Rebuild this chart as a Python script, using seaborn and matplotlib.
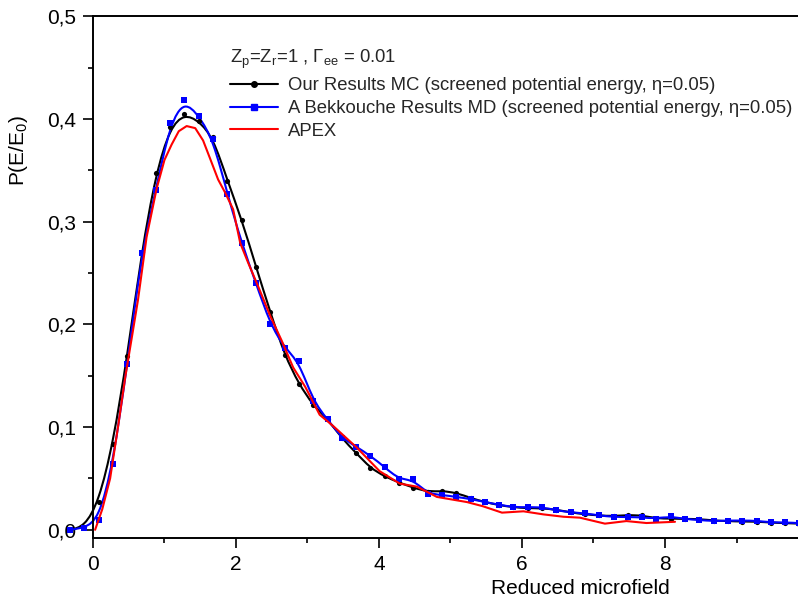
import numpy as np
import seaborn as sns
import matplotlib.pyplot as plt
from matplotlib.path import Path
from matplotlib.patches import PathPatch
from matplotlib.lines import Line2D
from matplotlib.ticker import FuncFormatter, MultipleLocator

# --- data ---
field = [-0.32, -0.12, 0.08, 0.28, 0.48, 0.68, 0.88, 1.08, 1.28, 1.48,
         1.68, 1.88, 2.08, 2.28, 2.48, 2.68, 2.88, 3.08, 3.28, 3.48,
         3.68, 3.88, 4.08, 4.28, 4.48, 4.68, 4.88, 5.08, 5.28, 5.48,
         5.68, 5.88, 6.08, 6.28, 6.48, 6.68, 6.88, 7.08, 7.28, 7.48,
         7.68, 7.88, 8.08, 8.28, 8.48, 8.68, 8.88, 9.08, 9.28, 9.48,
         9.68, 9.88]

mc_values = [0.000, 0.003, 0.027, 0.084, 0.169, 0.270, 0.347, 0.392, 0.405, 0.398,
             0.382, 0.340, 0.302, 0.256, 0.212, 0.170, 0.142, 0.121, 0.108, 0.089,
             0.075, 0.060, 0.052, 0.046, 0.041, 0.037, 0.038, 0.036, 0.031, 0.027,
             0.024, 0.022, 0.021, 0.021, 0.0195, 0.017, 0.015, 0.014, 0.0133, 0.0144,
             0.014, 0.011, 0.011, 0.0105, 0.0105, 0.009, 0.0085, 0.008, 0.008, 0.007,
             0.0065, 0.006]

md_values = [0.000, 0.002, 0.010, 0.064, 0.161, 0.269, 0.331, 0.396, 0.418, 0.403,
             0.380, 0.327, 0.279, 0.240, 0.200, 0.177, 0.164, 0.125, 0.1075, 0.0895,
             0.081, 0.072, 0.061, 0.049, 0.049, 0.035, 0.034, 0.032, 0.030, 0.027,
             0.0245, 0.022, 0.022, 0.022, 0.019, 0.017, 0.016, 0.014, 0.0125, 0.0125,
             0.012, 0.011, 0.013, 0.0105, 0.0095, 0.0085, 0.009, 0.009, 0.0088, 0.0072,
             0.0072, 0.0065]

apex_field = [0.03, 0.13, 0.24, 0.35, 0.45, 0.55, 0.63, 0.75, 0.89, 1.00,
              1.10, 1.20, 1.31, 1.43, 1.54, 1.64, 1.75, 1.85, 1.96, 2.06,
              2.17, 2.31, 2.48, 2.64, 2.80, 2.97, 3.17, 3.36, 3.69, 4.01,
              4.29, 4.53, 4.81, 5.23, 5.45, 5.72, 6.02, 6.30, 6.58, 6.81,
              7.16, 7.46, 7.74, 8.14]
apex_values = [0.000, 0.020, 0.050, 0.100, 0.148, 0.190, 0.224, 0.285, 0.332, 0.360,
               0.375, 0.388, 0.393, 0.391, 0.379, 0.361, 0.341, 0.328, 0.312, 0.279,
               0.260, 0.237, 0.208, 0.184, 0.158, 0.139, 0.112, 0.101, 0.080, 0.057,
               0.045, 0.042, 0.032, 0.027, 0.023, 0.0167, 0.018, 0.015, 0.0127, 0.0118,
               0.006, 0.0085, 0.0066, 0.0078]

legend_title = r"Z$_\mathregular{p}$=Z$_\mathregular{r}$=1 , Γ$_\mathregular{ee}$ = 0.01"
labels = ["Our Results MC (screened potential energy, η=0.05)",
          "A Bekkouche Results MD (screened potential energy, η=0.05)",
          "APEX"]


def bspline_patch(xs, ys, color):
    """Origin-like B-spline connection, drawn as cubic Bezier segments."""
    p = np.column_stack([xs, ys])
    p = np.vstack([p[:1], p[:1], p, p[-1:], p[-1:]])
    verts = [(p[0] + 4 * p[1] + p[2]) / 6]
    codes = [Path.MOVETO]
    for i in range(len(p) - 3):
        q0, q1, q2, q3 = p[i], p[i + 1], p[i + 2], p[i + 3]
        verts += [(2 * q1 + q2) / 3, (q1 + 2 * q2) / 3, (q1 + 4 * q2 + q3) / 6]
        codes += [Path.CURVE4] * 3
    return PathPatch(Path(verts, codes), facecolor='none', edgecolor=color,
                     lw=1.5, clip_on=False)


sns.set_theme(style='ticks')
plt.rcParams['font.family'] = ['Liberation Sans', 'DejaVu Sans']
plt.rcParams['mathtext.fontset'] = 'custom'
plt.rcParams['mathtext.rm'] = 'Liberation Sans'

fig, ax = plt.subplots(figsize=(7.98, 5.98), dpi=100)
fig.subplots_adjust(left=0.1165, right=1.0, bottom=0.1003, top=0.973)

# MC (black) and MD (blue): smooth line + markers
ax.add_patch(bspline_patch(field, mc_values, 'black'))
sns.scatterplot(x=field, y=mc_values, color='black', marker='o', s=14,
                linewidth=0, clip_on=False, ax=ax, zorder=3)
ax.add_patch(bspline_patch(field, md_values, '#0000ff'))
sns.scatterplot(x=field, y=md_values, color='#0000ff', marker='s', s=14,
                linewidth=0, clip_on=False, ax=ax, zorder=3)
# APEX (red)
sns.lineplot(x=apex_field, y=apex_values, color='red', lw=1.5, sort=False,
             estimator=None, ax=ax, zorder=4)

ax.set_xlim(0, 9.86)
ax.set_ylim(-0.008, 0.5)
ax.xaxis.set_major_locator(MultipleLocator(2))
ax.xaxis.set_minor_locator(MultipleLocator(1))
ax.yaxis.set_major_locator(MultipleLocator(0.1))
ax.yaxis.set_minor_locator(MultipleLocator(0.05))
ax.yaxis.set_major_formatter(FuncFormatter(lambda v, pos: f"{v:.1f}".replace('.', ',')))
ax.xaxis.set_major_formatter(FuncFormatter(lambda v, pos: f"{v:.0f}"))

ax.tick_params(which='major', direction='out', length=7, width=1.2, pad=5,
               labelsize=15, color='black', labelcolor='black')
ax.tick_params(which='minor', direction='out', length=3.5, width=1.2, color='black')
ax.tick_params(top=False, right=False, which='both')
for side in ['left', 'bottom', 'top']:
    ax.spines[side].set_linewidth(1.4)
    ax.spines[side].set_color('black')
ax.spines['right'].set_visible(False)

ax.set_xlabel("Reduced microfield", fontsize=15, color='black')
ax.set_ylabel("P(E/E$_\\mathregular{0}$)", fontsize=15, color='black')
ax.xaxis.set_label_coords(0.692, -0.078)
ax.yaxis.set_label_coords(-0.09, 0.743)

handles = [Line2D([], [], color='black', lw=1.5, marker='o', ms=4),
           Line2D([], [], color='#0000ff', lw=1.5, marker='s', ms=4),
           Line2D([], [], color='red', lw=1.5)]
leg = ax.legend(handles, labels, title=legend_title, loc='upper left',
                bbox_to_anchor=(230 / 798, 1 - 48 / 598), bbox_transform=fig.transFigure,
                frameon=False, fontsize=13.3, title_fontsize=13.3, borderpad=0,
                borderaxespad=0, handlelength=2.6, handletextpad=0.55, labelspacing=0.32)
leg._legend_box.align = 'left'

fig.savefig('out.png', dpi=100)
